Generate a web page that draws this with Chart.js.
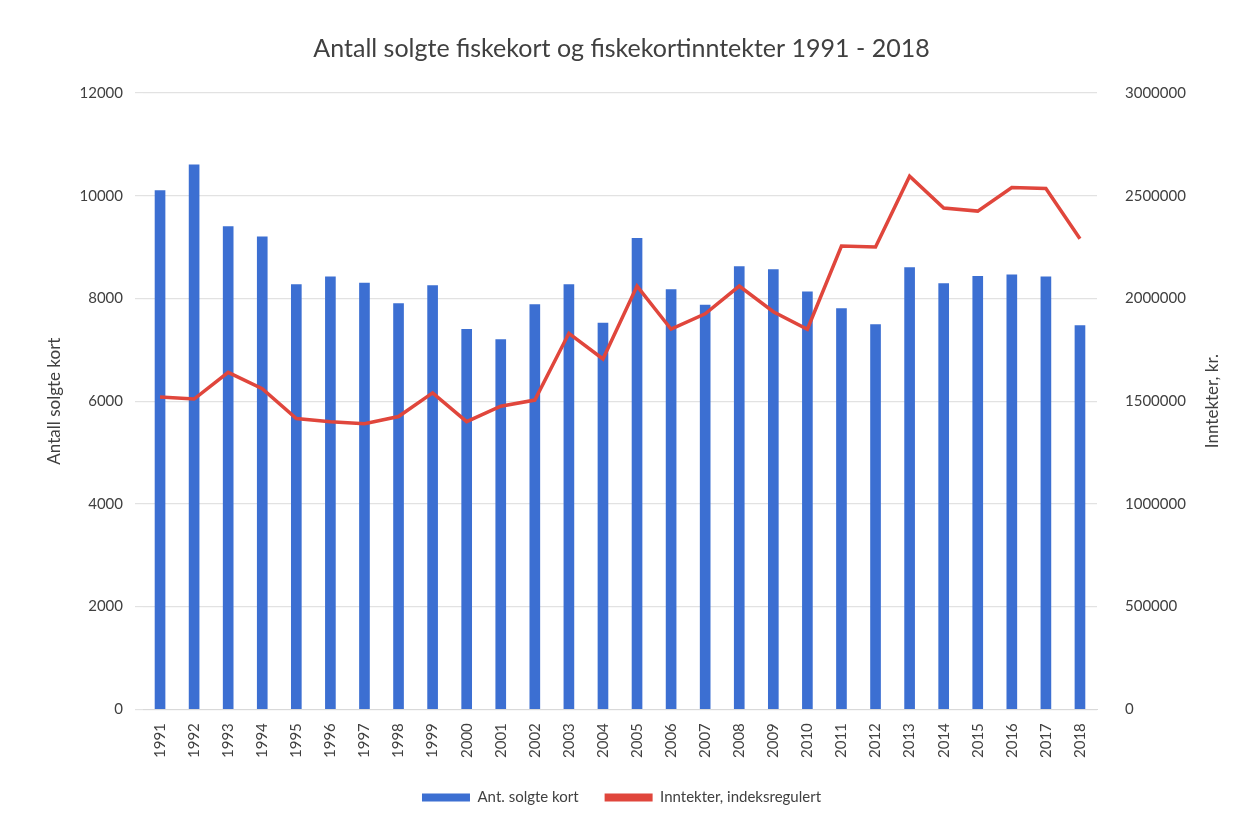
<!DOCTYPE html>
<html>
<head>
<meta charset="utf-8">
<script src="https://cdn.jsdelivr.net/npm/chart.js@4"></script>
<style>
  html, body { margin: 0; padding: 0; background: #fff; }
  #wrap { width: 1243px; height: 823px; }
</style>
</head>
<body>
<div id="wrap"><canvas id="canvas" width="1243" height="823"></canvas></div>
<script>
const years = ['1991','1992','1993','1994','1995','1996','1997','1998','1999','2000',
    '2001','2002','2003','2004','2005','2006','2007','2008','2009','2010',
    '2011','2012','2013','2014','2015','2016','2017','2018'];
// antall solgte fiskekort
const soldCards = [10100, 10600, 9400, 9200, 8270, 8420, 8300, 7900, 8250, 7400,
    7200, 7880, 8270, 7520, 9170, 8170, 7870, 8620, 8560, 8130,
    7800, 7490, 8600, 8290, 8430, 8460, 8420, 7470];
// inntekter, indeksregulert (kr)
const income = [1520000, 1510000, 1640000, 1560000, 1415000, 1400000, 1390000, 1425000, 1540000, 1400000,
    1475000, 1505000, 1830000, 1705000, 2060000, 1850000, 1925000, 2060000, 1935000, 1850000,
    2255000, 2250000, 2595000, 2440000, 2425000, 2540000, 2535000, 2290000];
const leftTicks = [0, 2000, 4000, 6000, 8000, 10000, 12000];
const rightTicks = [0, 500000, 1000000, 1500000, 2000000, 2500000, 3000000];
const leftTitle = 'Antall solgte kort';
const rightTitle = 'Inntekter, kr.';

const font = 'Lato, "Open Sans", sans-serif';
const txt = '#404040';

// akse-titler, begge rotert nedenfra og opp
const axisTitles = {
    id: 'axisTitles',
    afterDraw(chart) {
        const c = chart.ctx, a = chart.chartArea;
        const midY = (a.top + a.bottom) / 2;
        c.save();
        c.fillStyle = txt;
        c.font = '17px ' + font;
        c.textAlign = 'center';
        c.textBaseline = 'middle';
        [[55, leftTitle], [1213, rightTitle]].forEach(([x, t]) => {
            c.save();
            c.translate(x, midY);
            c.rotate(-Math.PI / 2);
            c.fillText(t, 0, 0);
            c.restore();
        });
        c.restore();
    }
};

const ctx = document.getElementById('canvas').getContext('2d');
const myChart = new Chart(ctx, {
    type: 'bar',
    plugins: [axisTitles],
    data: {
        labels: years,
        datasets: [{
            type: 'line',
            label: 'Inntekter, indeksregulert',
            data: income,
            yAxisID: 'y2',
            borderColor: '#E0463C',
            backgroundColor: '#E0463C',
            borderWidth: 3.5,
            pointRadius: 0,
            tension: 0,
            order: 0
        }, {
            label: 'Ant. solgte kort',
            data: soldCards,
            yAxisID: 'y',
            backgroundColor: '#3C6FD2',
            barThickness: 10,
            order: 1
        }]
    },
    options: {
        responsive: false,
        animation: false,
        layout: { padding: { top: 12, left: 0, right: 0, bottom: 8 } },
        plugins: {
            title: {
                display: true,
                text: 'Antall solgte fiskekort og fiskekortinntekter 1991 - 2018',
                color: txt,
                font: { family: font, size: 25, weight: 'normal' },
                padding: { top: 22, bottom: 29 }
            },
            legend: {
                position: 'bottom',
                reverse: true,
                labels: {
                    color: txt,
                    font: { family: font, size: 15 },
                    boxWidth: 48,
                    boxHeight: 8,
                    padding: 26,
                    generateLabels: function(chart) {
                        const items = Chart.defaults.plugins.legend.labels.generateLabels(chart);
                        items.forEach(it => { it.lineWidth = 0; it.strokeStyle = 'transparent'; });
                        return items;
                    }
                }
            },
            tooltip: { enabled: false }
        },
        scales: {
            x: {
                grid: { display: false },
                border: { color: '#d9d9d9' },
                ticks: {
                    color: txt,
                    font: { family: font, size: 15 },
                    maxRotation: 90, minRotation: 90,
                    autoSkip: false,
                    padding: 6
                }
            },
            y: {
                position: 'left',
                min: 0, max: 12000,
                afterBuildTicks: s => { s.ticks = leftTicks.map(v => ({ value: v })); },
                afterFit: s => { s.width = 143; },
                grid: { color: '#e2e2e2', lineWidth: 1.2 },
                border: { display: false },
                ticks: { color: txt, font: { family: font, size: 15 }, padding: 12,
                    callback: v => String(v) }
            },
            y2: {
                position: 'right',
                min: 0, max: 3000000,
                afterBuildTicks: s => { s.ticks = rightTicks.map(v => ({ value: v })); },
                afterFit: s => { s.width = 146; },
                grid: { display: false },
                border: { display: false },
                ticks: { color: txt, font: { family: font, size: 15 }, padding: 20,
                    callback: v => String(v) }
            }
        }
    }
});
</script>
</body>
</html>
